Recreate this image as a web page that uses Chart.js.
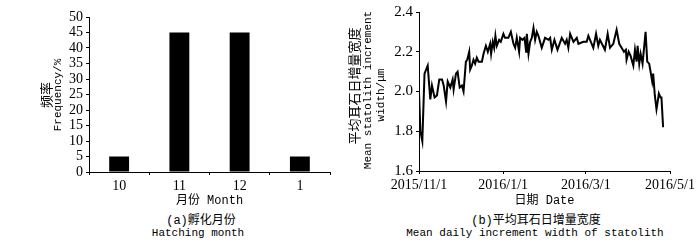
<!DOCTYPE html>
<html>
<head>
<meta charset="utf-8">
<script src="https://cdn.jsdelivr.net/npm/chart.js@4"></script>
<style>
  body { margin: 0; background: #fff; width: 700px; height: 240px; position: relative; overflow: hidden; }
  .box { position: absolute; top: 0; height: 210px; }
  .txt { position: absolute; white-space: nowrap; color: #000; line-height: 1; transform: translate(-50%, -50%); }
  .rot { transform: translate(-50%, -50%) rotate(-90deg); }
  .cn { font-family: "Noto Sans CJK SC", sans-serif; font-size: 13px; }
  .en { font-family: "Liberation Mono", monospace; font-size: 11px; }
</style>
</head>
<body>
<div class="box" style="left:0;width:345px"><canvas id="hatchChart"></canvas></div>
<div class="box" style="left:345px;width:355px"><canvas id="widthChart"></canvas></div>

<!-- titulos dos eixos y -->
<div class="txt rot cn" style="left:45px;top:95px">频率</div>
<div class="txt rot en" style="left:58px;top:95px">Frequency/%</div>
<div class="txt rot cn" style="left:353px;top:86px">平均耳石日增量宽度</div>
<div class="txt rot en" style="left:368px;top:90px">Mean statolith increment</div>
<div class="txt rot en" style="left:381px;top:95px">width/μm</div>

<!-- legendas -->
<div class="txt cn" style="left:201px;top:220px;font-size:12px"><span class="en" style="font-size:12px">(a)</span>孵化月份</div>
<div class="txt en" style="left:198px;top:233px">Hatching month</div>
<div class="txt cn" style="left:536px;top:220px;font-size:12px"><span class="en" style="font-size:12px">(b)</span>平均耳石日增量宽度</div>
<div class="txt en" style="left:535px;top:233px">Mean daily increment width of statolith</div>

<script>
// dados (a)
const months = ["10", "11", "12", "1"];
const frequency = [5, 45, 45, 5];

// dados (b) - dias desde 2015/11/1
const dayOffsets = [
  0, 1, 2.4, 4, 6.3, 8.2, 9.4, 11.3, 13, 14.7, 16.7, 17.9, 19.6, 20.8, 22.7,
  24.4, 25.1, 26.8, 28, 29.5, 31.1, 32.3, 34, 35, 36.4, 37.1, 38.3, 39.5,
  40.7, 41.9, 43.2, 45.6, 46.8, 48.5, 49.9, 51.6, 52.3, 53.5, 54.5, 55.4,
  56.4, 58.1, 59.3, 61.2, 62.4, 64.8, 66.6, 68.5, 69.7, 70.9, 72.6, 73.3,
  75, 76.5, 77.7, 78.2, 79.4, 80.6, 81.8, 83, 84.2, 85.4, 86.6, 89, 91.4,
  93.9, 95.1, 96.3, 98.2, 100.4, 103.5, 105.9, 107.1, 108.3, 109.6, 112,
  114.4, 115.6, 119.2, 121.6, 122.8, 125.2, 126.4, 128.4, 130, 131.2, 134.8,
  136.8, 138.5, 140.9, 143.3, 145.2, 146.9, 148.6, 150, 150.5, 152, 153.4,
  155.4, 156.6, 157.8, 158.5, 159.7, 160.7, 162.1, 164.3, 165.5, 166.9,
  167.9, 169.1, 169.8, 171, 172.2, 172.9, 173.9, 175.1, 175.8, 177,
];
const widths = [
  2.0, 1.8, 1.75, 2.09, 2.13, 1.96, 2.03, 1.97, 1.98, 2.06, 2.06, 2.03, 1.95,
  2.05, 2.02, 2.06, 2.01, 2.09, 2.1, 2.02, 2.03, 2.0, 2.15, 2.16, 2.2, 2.11,
  2.13, 2.16, 2.14, 2.17, 2.15, 2.15, 2.19, 2.23, 2.2, 2.24, 2.19, 2.25,
  2.22, 2.28, 2.23, 2.26, 2.25, 2.29, 2.27, 2.27, 2.3, 2.24, 2.22, 2.27,
  2.2, 2.27, 2.26, 2.27, 2.2, 2.29, 2.19, 2.25, 2.27, 2.32, 2.26, 2.3, 2.28,
  2.22, 2.27, 2.26, 2.27, 2.21, 2.26, 2.21, 2.27, 2.24, 2.26, 2.22, 2.29,
  2.25, 2.27, 2.24, 2.25, 2.25, 2.28, 2.24, 2.22, 2.29, 2.23, 2.26, 2.21,
  2.29, 2.22, 2.24, 2.31, 2.24, 2.22, 2.2, 2.21, 2.16, 2.2, 2.18, 2.13, 2.21,
  2.15, 2.23, 2.14, 2.19, 2.14, 2.3, 2.15, 2.14, 2.1, 2.05, 2.09, 1.98, 1.91,
  1.94, 1.99, 1.97, 1.97, 1.82,
];
const dateTickDays = [0, 61, 121, 182];
const dateTickLabels = ["2015/11/1", "2016/1/1", "2016/3/1", "2016/5/1"];

const tickFont = { family: "Liberation Serif", size: 14 };
const titleFont = { family: "'Liberation Mono', 'Noto Sans CJK SC'", size: 12 };
const axisGrid = { drawOnChartArea: false, color: "#000", tickLength: 3 };
const axisBorder = { color: "#000", width: 1 };

document.addEventListener("DOMContentLoaded", () => {
  // (a) barras
  new Chart(document.getElementById("hatchChart"), {
    type: "bar",
    data: {
      labels: months,
      datasets: [{
        data: frequency,
        backgroundColor: "#000",
        barPercentage: 0.33,
        categoryPercentage: 1,
      }],
    },
    options: {
      responsive: true,
      maintainAspectRatio: false,
      animation: false,
      layout: { padding: { left: 0, right: 15, top: 17, bottom: 0 } },
      plugins: { legend: { display: false }, tooltip: { enabled: false } },
      scales: {
        x: {
          grid: { ...axisGrid, offset: true },
          border: axisBorder,
          ticks: { color: "#000", font: tickFont, padding: 3 },
          title: { display: true, text: "月份 Month", color: "#000", font: titleFont, padding: 2 },
          afterFit: (s) => { s.height = 38; },
        },
        y: {
          min: 0,
          max: 50,
          grid: axisGrid,
          border: axisBorder,
          ticks: { stepSize: 5, autoSkip: false, color: "#000", font: tickFont, padding: 3 },
          afterFit: (s) => { s.width = 89; },
        },
      },
    },
  });

  // (b) linha
  new Chart(document.getElementById("widthChart"), {
    type: "line",
    data: {
      datasets: [{
        data: dayOffsets.map((d, i) => ({ x: d, y: widths[i] })),
        borderColor: "#000",
        borderWidth: 2,
        pointRadius: 0,
        tension: 0,
      }],
    },
    options: {
      responsive: true,
      maintainAspectRatio: false,
      animation: false,
      layout: { padding: { left: 0, right: 30, top: 8, bottom: 0 } },
      plugins: { legend: { display: false }, tooltip: { enabled: false } },
      scales: {
        x: {
          type: "linear",
          min: 0,
          max: 182,
          grid: axisGrid,
          border: axisBorder,
          afterBuildTicks: (s) => { s.ticks = dateTickDays.map((v) => ({ value: v })); },
          ticks: {
            color: "#000",
            font: tickFont,
            padding: 3,
            maxRotation: 0,
            autoSkip: false,
            callback: (v) => dateTickLabels[dateTickDays.indexOf(v)],
          },
          title: { display: true, text: "日期 Date", color: "#000", font: titleFont, padding: 2 },
          afterFit: (s) => { s.height = 39; },
        },
        y: {
          min: 1.6,
          max: 2.4,
          grid: axisGrid,
          border: axisBorder,
          ticks: {
            stepSize: 0.2,
            color: "#000",
            font: { family: "Liberation Serif", size: 15 },
            padding: 3,
            callback: (v) => v.toFixed(1),
          },
          afterFit: (s) => { s.width = 74; },
        },
      },
    },
  });
});
</script>
</body>
</html>
